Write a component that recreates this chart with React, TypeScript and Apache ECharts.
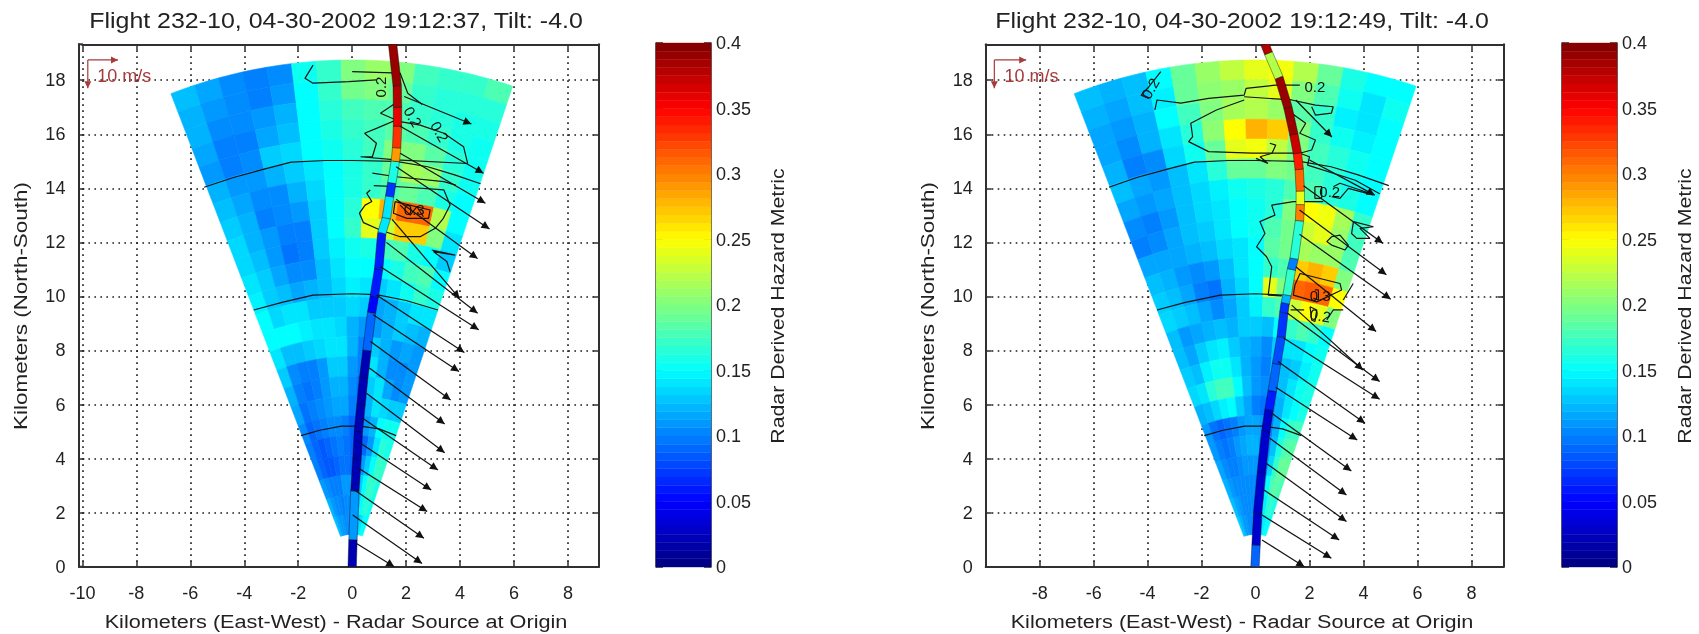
import React, { useEffect, useRef } from "react";
import * as echarts from "echarts";

const FONT = '"Liberation Sans", Arial, sans-serif';
const titles = ["Flight 232-10, 04-30-2002 19:12:37, Tilt: -4.0", "Flight 232-10, 04-30-2002 19:12:49, Tilt: -4.0"];
const xName = "Kilometers (East-West) - Radar Source at Origin";
const yName = "Kilometers (North-South)";
const barName = "Radar Derived Hazard Metric";

const azStart = -21, azStep = 39.5 / 14;
const rOuter = 18.75, rStep = 17.55 / 24;

// rows from the outer range gate inward, columns from west to east
const hazardA = [
  [.125,.115,.105,.10,.105,.155,.17,.20,.21,.20,.175,.17,.17,.18],
  [.12,.11,.105,.10,.11,.15,.17,.195,.20,.19,.17,.165,.165,.165],
  [.12,.105,.105,.11,.12,.15,.165,.175,.18,.18,.17,.165,.16,.16],
  [.115,.10,.10,.115,.125,.15,.16,.17,.175,.185,.18,.17,.16,.155],
  [.11,.10,.105,.13,.135,.15,.155,.165,.175,.20,.20,.185,.165,.155],
  [.12,.11,.11,.12,.13,.14,.15,.16,.17,.19,.215,.21,.17,.155],
  [.125,.115,.105,.105,.12,.135,.15,.16,.17,.18,.19,.18,.16,.15],
  [.13,.12,.10,.105,.11,.13,.15,.165,.25,.28,.31,.31,.22,.15],
  [.135,.12,.11,.10,.10,.13,.15,.17,.24,.23,.27,.27,.20,.14],
  [.135,.125,.11,.095,.10,.13,.145,.155,.16,.175,.18,.16,.15,.13],
  [.14,.13,.115,.105,.105,.125,.14,.15,.15,.15,.16,.175,.18,.15],
  [.145,.13,.125,.115,.12,.125,.135,.145,.14,.13,.14,.155,.17,.16],
  [.15,.135,.14,.14,.13,.13,.13,.135,.13,.115,.12,.13,.14,.14],
  [.15,.15,.15,.145,.14,.14,.135,.12,.11,.11,.12,.13,.125,.12],
  [.14,.125,.125,.13,.135,.14,.14,.12,.10,.13,.12,.11,.115,.11],
  [.13,.105,.10,.10,.11,.13,.13,.11,.10,.14,.12,.105,.105,.11],
  [.12,.10,.095,.10,.11,.12,.12,.105,.09,.13,.14,.115,.105,.11],
  [.115,.095,.10,.105,.11,.115,.115,.10,.09,.12,.14,.135,.13,.13],
  [.105,.09,.095,.10,.105,.105,.10,.09,.09,.11,.12,.15,.155,.155],
  [.10,.09,.085,.09,.095,.10,.095,.09,.085,.09,.11,.14,.165,.16],
  [.10,.09,.085,.085,.09,.095,.095,.09,.085,.11,.13,.15,.17,.17],
  [.11,.105,.10,.10,.10,.11,.11,.11,.10,.13,.15,.17,.17,.16],
  [.12,.11,.105,.105,.10,.105,.105,.11,.11,.13,.15,.165,.165,.155],
  [.125,.115,.11,.11,.105,.105,.105,.105,.11,.12,.13,.14,.15,.15],
];
const hazardB = [
  [.125,.12,.125,.15,.19,.21,.225,.24,.245,.22,.19,.16,.15,.15],
  [.12,.115,.125,.145,.19,.205,.21,.225,.24,.20,.18,.155,.14,.155],
  [.115,.11,.12,.15,.175,.20,.215,.22,.21,.185,.17,.145,.14,.15],
  [.115,.105,.12,.14,.165,.205,.25,.28,.27,.20,.17,.155,.145,.15],
  [.12,.10,.105,.135,.155,.19,.24,.245,.225,.20,.175,.165,.155,.15],
  [.125,.115,.11,.125,.14,.165,.19,.19,.20,.195,.175,.165,.155,.15],
  [.115,.11,.115,.125,.135,.145,.155,.16,.165,.18,.18,.165,.16,.15],
  [.105,.10,.11,.125,.135,.14,.15,.155,.165,.20,.25,.245,.215,.17],
  [.10,.105,.115,.125,.13,.14,.15,.155,.18,.195,.23,.24,.21,.175],
  [.115,.115,.115,.12,.125,.135,.14,.15,.185,.195,.215,.21,.21,.18],
  [.125,.12,.11,.105,.11,.125,.14,.15,.17,.18,.27,.28,.27,.2],
  [.13,.125,.115,.10,.095,.12,.135,.15,.24,.20,.31,.315,.31,.25],
  [.135,.13,.125,.115,.105,.115,.13,.145,.17,.18,.23,.25,.24,.2],
  [.125,.11,.115,.12,.125,.12,.13,.13,.125,.15,.17,.18,.17,.15],
  [.125,.115,.13,.14,.145,.13,.12,.115,.105,.13,.14,.14,.15,.155],
  [.13,.125,.145,.155,.155,.14,.12,.11,.10,.125,.125,.13,.145,.155],
  [.135,.14,.165,.175,.175,.15,.125,.11,.105,.115,.125,.14,.155,.16],
  [.12,.125,.135,.145,.15,.13,.115,.10,.095,.11,.12,.14,.15,.16],
  [.11,.095,.09,.095,.10,.11,.115,.115,.11,.10,.12,.15,.17,.175],
  [.11,.10,.095,.10,.11,.115,.12,.12,.11,.105,.125,.16,.18,.185],
  [.115,.105,.10,.10,.105,.11,.11,.11,.10,.11,.135,.17,.19,.19],
  [.12,.11,.105,.105,.105,.105,.105,.105,.105,.125,.15,.18,.185,.18],
  [.125,.115,.11,.105,.105,.105,.105,.105,.105,.125,.145,.165,.17,.16],
  [.13,.12,.11,.11,.105,.105,.11,.11,.115,.125,.135,.145,.15,.15],
];

// flight path vertices: x, y, hazard of the stretch that follows
const pathA = [[0,0,.02],[.03,1,.11],[.1,2.8,.02],[.18,4,.02],[.23,5,.02],[.33,6,.02],[.43,7,.02],[.55,8,.09],[.72,9.4,.05],[.82,10,.06],[.98,11,.06],[1.1,12.35,.14],[1.27,12.9,.14],[1.39,13.7,.07],[1.47,14.2,.16],[1.6,15,.29],[1.65,15.5,.33],[1.68,16.3,.36],[1.68,17,.38],[1.67,17.8,.39],[1.5,19.33,.39]];
const pathB = [[-.02,0,.09],[.02,.8,.03],[.08,2,.03],[.22,3.5,.03],[.38,5,.03],[.5,5.8,.06],[.62,6.5,.09],[.78,7.5,.08],[.95,8.5,.07],[1.05,9.4,.07],[1.1,9.75,.12],[1.17,10.05,.17],[1.33,11,.10],[1.43,11.4,.165],[1.63,12.8,.30],[1.66,13.4,.24],[1.66,13.9,.31],[1.62,14.7,.34],[1.55,15.3,.37],[1.42,16,.39],[1.2,17,.39],[.87,18.1,.22],[.48,19,.38],[.35,19.33,.38]];

// wind arrows: x0, y0, x1, y1
const arrowsA = [[.16,.86,1.56,0],[.02,1.91,2.59,.12],[.09,2.84,2.66,1.05],[.24,3.64,2.78,2.04],[.31,4.57,2.93,2.84],[.39,5.49,3.18,3.58],[.53,6.42,3.43,4.22],[.64,7.35,3.43,5.28],[.68,8.33,3.65,6.17],[.78,9.32,3.96,7.22],[.9,10.05,4.16,7.93],[1.05,11.1,4.69,8.77],[1.27,12,4.65,9.38],[1.48,12.85,3.98,9.93],[1.63,13.6,4.65,11.4],[1.63,14.8,5.09,12.5],[1.78,15.3,4.94,13.45],[1.78,16.3,4.87,14.56],[1.93,17.4,4.42,16.38]];
const arrowsB = [[.24,.99,1.81,0],[.24,1.91,2.81,.31],[.31,2.84,3.1,.99],[.39,3.83,3.37,1.67],[.53,4.75,3.37,2.65],[.6,5.68,3.55,3.54],[.75,6.64,3.77,4.69],[.83,7.59,4.06,5.31],[1.04,8.46,4.6,6.2],[1.19,9.38,4.6,6.85],[1.34,9.68,3.98,7.28],[1.49,11.1,4.47,8.7],[1.63,12.3,5.01,9.9],[1.63,13.2,4.85,10.8],[1.78,14.1,4.72,11.97],[2,15.05,4.42,13.75],[1.49,17.27,2.83,15.9]];

const ringsA = [
  [[-1.9,4.85],[-1.2,5.05],[-.4,5.2],[.3,5.2],[1,5.1],[1.63,4.85]],
  [[-3.65,9.5],[-2.6,9.78],[-1.45,10.05],[0,10.1],[.9,10.07],[2,9.85],[3.18,9.5]],
  [[-5.49,14.04],[-4.4,14.4],[-3.3,14.7],[-2.26,14.97],[-1,15.03],[0,15.03],[1.63,15],[2.8,14.8],[3.8,14.5],[4.76,14.17]],
];
const ringsB = [
  [[-1.9,4.85],[-1.2,5.05],[-.4,5.2],[.3,5.2],[1,5.1],[1.7,4.85]],
  [[-3.65,9.5],[-2.6,9.78],[-1.3,10.05],[0,10.1],[1,10.05]],
  [[-5.43,14.04],[-4.4,14.4],[-3.3,14.7],[-2.26,14.97],[-1,15.03],[0,15.03],[1.63,15],[2.8,14.8],[3.8,14.5],[4.94,14.1]],
];

const contoursA = [
  [[-1.45,18.56],[-1.75,18.07],[-1.45,17.89],[-.13,17.95],[.9,18.01]],
  [[-.0,18.32],[1.78,18.26],[2.06,17.52],[2.6,17.1]],
  [[1.78,17.27],[1.05,16.78],[1.63,16.53],[.9,16.22],[.46,16.04],[.9,15.67],[.75,15.17],[.31,15.17],[1.63,15.05],[4.28,14.92],[4.13,15.54],[3.4,16.04],[2.52,16.34],[1.78,16.47]],
  [[.75,14.56],[1.63,14.43],[3.4,14.25],[3.84,14.12]],
  [[.8,14.1],[1.9,14.05],[3.4,13.94],[3.63,13.38],[3.38,12.89],[3.08,12.52],[2.52,12.21],[1.78,12.21],[1.04,12.46],[.42,12.73],[.27,13.08],[.48,13.38],[.73,13.51],[.54,13.82],[.67,13.94]],
  [[1.59,13.51],[2.89,13.2],[2.83,12.89],[2.03,12.89],[1.53,13.08],[1.59,13.51]],
  [[1.78,13.38],[2.15,13.01],[2.4,13.32],[2.64,12.95]],
  [[2.95,11.72],[3.82,11.53],[3.01,11.66],[3.51,11.29],[3.63,10.92]],
];
const contoursB = [
  [[-3.51,18.32],[-3.95,17.76],[-4.24,17.45],[-3.95,17.33]],
  [[-3.73,16.9],[-3.65,17.27],[-2.77,17.15],[-1.74,17.33],[-.42,17.45],[-.35,17.7],[.75,17.82],[1.64,17.82]],
  [[-.42,17.39],[1.34,17.27],[2.22,17.08],[2.88,17.02],[2.81,16.78],[2.22,16.71],[2.08,17.02]],
  [[-.42,17.27],[-1.45,16.9],[-2.4,16.41],[-2.33,15.91],[-2.48,15.73],[-1.74,15.36],[-.13,15.3],[1.64,15.3],[2.08,15.42],[2.22,15.79],[1.64,16.04],[1.86,16.41],[1.34,16.78]],
  [[.53,15.67],[.75,15.6],[.61,15.3],[.17,15.17],[.46,14.92],[.02,15.11]],
  [[1.64,15.3],[2,15.17],[1.93,14.86],[3.7,14.3],[4.6,13.8]],
  [[2.51,13.51],[1.4,13.51],[.6,13.38],[.72,13.01],[.16,12.77],[.35,12.33],[.04,11.84],[.41,11.47],[.6,11.1],[.47,10.05],[.97,10.02]],
  [[1.46,10.42],[1.65,10.85],[3.13,10.48],[3.19,10.24],[2.27,9.8],[1.4,10.05],[1.46,10.42]],
  [[2.2,10.24],[2.33,10.24],[2.33,9.87],[2.14,9.93]],
  [[2.82,12.21],[3.13,12.27],[3.44,11.9],[3.32,11.72],[2.82,11.9],[2.64,12.03],[2.82,12.21]],
  [[3.63,12.77],[4.37,12.58],[3.87,12.52],[4.24,12.15],[3.75,12.15],[3.56,12.33],[3.63,12.77]],
  [[2.2,14.06],[2.45,14.06],[2.45,13.63],[2.2,13.63],[2.2,14.06]],
  [[2.88,14.06],[3.13,14.19],[4.24,13.82],[4.37,13.75],[3.44,14],[3.13,13.63],[2.82,13.69]],
  [[2.02,9.62],[2.27,9.5],[2.2,9.07],[2.08,9.13],[2.02,9.62]],
  [[1.3,9.5],[1.8,9.5]],
  [[2.64,9.13],[2.88,9.5],[3.25,9.5]],
  [[3.62,10.48],[3.25,9.87]],
];

// x, y, rotation in degrees; the text is in the matching list
const labelPosA = [[1.05,17.75,90],[2.25,16.65,-60],[3.25,16.1,-60],[2.3,13.2,0]];
const labelTextA = ["0.2", "0.2", "0.2", "0.3"];
const labelPosB = [[2.2,17.78,0],[2.75,13.9,0],[2.4,10.05,0],[2.4,9.3,-10],[-3.9,17.7,60]];
const labelTextB = ["0.2", "0.2", "0.3", "0.2", "0.2"];

const scaleArrowsA = [[-9.8,18.75,-8.68,18.75],[-9.8,18.75,-9.8,17.7]];
const scaleArrowsB = [[-9.68,18.75,-8.5,18.75],[-9.68,18.75,-9.68,17.7]];
const scaleTextPosA = [[-8.45,18.16,0]];
const scaleTextPosB = [[-8.3,18.16,0]];
const scaleText = ["10 m/s"];

const barTicks = [0, .05, .1, .15, .2, .25, .3, .35, .4];
const barLevels = Array.from({ length: 64 }, (_, i) => [(i + .5) * .4 / 64]);

function jet(v: number) {
  const t = Math.max(0, Math.min(1, v / .4)) * 4;
  const ch = (c: number) => Math.round(255 * Math.max(0, Math.min(1, 1.5 - Math.abs(t - c))));
  return `rgb(${ch(3)},${ch(2)},${ch(1)})`;
}

const DARK = "#303030";
const RED = "#a83a3a";
const GRAY = "#1c1c1c";
const INK = "#222";

function cellSeries(matrix: number[][], xi: number, yi: number) {
  const data: number[][] = [];
  matrix.forEach((row, i) => row.forEach((v, j) => data.push([i, j, v])));
  return {
    type: "custom", xAxisIndex: xi, yAxisIndex: yi, coordinateSystem: "cartesian2d", z: 2, silent: true,
    data,
    renderItem: (_: any, api: any) => {
      const i = api.value(0), j = api.value(1), v = api.value(2);
      const ro = rOuter - i * rStep, ri = ro - rStep;
      const a0 = azStart + j * azStep;
      const pts: number[][] = [];
      const at = (r: number, a: number) => {
        const t = (a * Math.PI) / 180;
        return api.coord([r * Math.sin(t), r * Math.cos(t)]);
      };
      for (let k = 0; k <= 3; k++) pts.push(at(ro, a0 + (k * azStep) / 3));
      for (let k = 3; k >= 0; k--) pts.push(at(ri, a0 + (k * azStep) / 3));
      const c = jet(v);
      return { type: "polygon", shape: { points: pts }, style: { fill: c, stroke: c, lineWidth: .6 } };
    },
  };
}

function pathSeries(path: number[][], xi: number, yi: number) {
  const data = path.slice(0, -1).map((p, i) => [p[0], p[1], path[i + 1][0], path[i + 1][1], p[2]]);
  return {
    type: "custom", xAxisIndex: xi, yAxisIndex: yi, coordinateSystem: "cartesian2d", z: 6, clip: true, silent: true,
    data,
    renderItem: (_: any, api: any) => {
      const a = api.coord([api.value(0), api.value(1)]);
      const b = api.coord([api.value(2), api.value(3)]);
      const dx = b[0] - a[0], dy = b[1] - a[1], l = Math.hypot(dx, dy) || 1;
      const w = 4.2, nx = (-dy / l) * w, ny = (dx / l) * w;
      return {
        type: "polygon",
        shape: { points: [[a[0] + nx, a[1] + ny], [b[0] + nx, b[1] + ny], [b[0] - nx, b[1] - ny], [a[0] - nx, a[1] - ny]] },
        style: { fill: jet(api.value(4)), stroke: "rgba(0,0,0,.55)", lineWidth: .7 },
      };
    },
  };
}

function arrowSeries(list: number[][], xi: number, yi: number, color: string, z: number, head: number) {
  return {
    type: "custom", xAxisIndex: xi, yAxisIndex: yi, coordinateSystem: "cartesian2d", z, clip: true, silent: true,
    data: list,
    renderItem: (_: any, api: any) => {
      const a = api.coord([api.value(0), api.value(1)]);
      const b = api.coord([api.value(2), api.value(3)]);
      const dx = b[0] - a[0], dy = b[1] - a[1], l = Math.hypot(dx, dy) || 1;
      const ux = dx / l, uy = dy / l;
      return {
        type: "group",
        children: [
          { type: "line", shape: { x1: a[0], y1: a[1], x2: b[0], y2: b[1] }, style: { stroke: color, lineWidth: 1.2 } },
          { type: "polygon", shape: { points: [[b[0], b[1]], [b[0] - ux * head - uy * head * .5, b[1] - uy * head + ux * head * .5], [b[0] - ux * head + uy * head * .5, b[1] - uy * head - ux * head * .5]] }, style: { fill: color } },
        ],
      };
    },
  };
}

function lineSeries(lines: number[][][], xi: number, yi: number, z: number) {
  return lines.map((d) => ({
    type: "line", xAxisIndex: xi, yAxisIndex: yi, data: d, showSymbol: false, symbol: "none", z, silent: true, clip: true,
    lineStyle: { color: "#141414", width: 1.2 },
  }));
}

function textSeries(pos: number[][], texts: string[], xi: number, yi: number, fill: string, size: number, z: number) {
  return {
    type: "custom", xAxisIndex: xi, yAxisIndex: yi, coordinateSystem: "cartesian2d", z, silent: true,
    data: pos,
    renderItem: (p: any, api: any) => {
      const c = api.coord([api.value(0), api.value(1)]);
      return {
        type: "text", x: c[0], y: c[1], rotation: (api.value(2) * Math.PI) / 180,
        style: { text: texts[p.dataIndex], fill, font: `${size}px ${FONT}`, textAlign: "center", textVerticalAlign: "middle" },
      };
    },
  };
}

const tickLabel = { color: INK, fontFamily: FONT, fontSize: 18 };
const evenOnly = (v: number) => (Math.abs(v % 2) < 1e-9 ? String(v) : "");

function plotAxes(grid: number, xMax: number, showLeft: boolean, leftOffset: number) {
  const base = { gridIndex: grid, type: "value", axisLine: { show: true, onZero: false, lineStyle: { color: DARK, width: 2 } }, axisTick: { inside: true, length: 6, lineStyle: { color: DARK, width: 1.5 } } };
  const dots = { show: true, lineStyle: { color: GRAY, type: [1.6, 4.4], width: 1.6 } };
  return {
    x: [
      { ...base, position: "bottom", min: -10, max: xMax, interval: 2, splitLine: dots,
        axisLabel: { ...tickLabel, margin: 17, showMaxLabel: false, formatter: (v: number) => (v === -10 && !showLeft ? "" : evenOnly(v)) } },
      { ...base, position: "top", min: -10, max: xMax, interval: 2, splitLine: { show: false }, axisLabel: { show: false } },
    ],
    y: [
      { ...base, position: "left", offset: leftOffset, min: 0, max: 19.33, interval: 2, splitLine: dots,
        axisLabel: { ...tickLabel, margin: 13, showMaxLabel: false, formatter: evenOnly } },
      { ...base, position: "right", min: 0, max: 19.33, interval: 2, splitLine: { show: false }, axisLabel: { show: false } },
    ],
  };
}

function barAxes(grid: number) {
  const base = { gridIndex: grid, type: "value", min: 0, max: .4, interval: barTicks[1], axisLine: { show: true, lineStyle: { color: DARK, width: 1.5 } }, axisTick: { inside: true, length: 7, lineStyle: { color: DARK, width: 1.5 } }, splitLine: { show: false } };
  return {
    x: { gridIndex: grid, type: "value", min: 0, max: 1, show: false },
    y: [
      { ...base, position: "left", axisLabel: { show: false } },
      { ...base, position: "right", axisLabel: { ...tickLabel, margin: 5, formatter: (v: number) => String(Number(v.toFixed(2))) } },
    ],
  };
}

function barSeries(xi: number, yi: number) {
  return {
    type: "custom", xAxisIndex: xi, yAxisIndex: yi, coordinateSystem: "cartesian2d", z: 2, silent: true,
    data: barLevels,
    renderItem: (_: any, api: any) => {
      const v = api.value(0), d = .4 / 128;
      const a = api.coord([0, v + d]), b = api.coord([1, v - d]);
      const c = jet(v);
      return { type: "rect", shape: { x: a[0], y: a[1], width: b[0] - a[0], height: b[1] - a[1] }, style: { fill: c, stroke: c, lineWidth: .4 } };
    },
  };
}

function stretched(text: string, x: number, y: number, size: number, scaleX: number, rotation = 0) {
  return {
    type: "text", x, y, scaleX, rotation, silent: true,
    style: { text, fill: INK, font: `${size}px ${FONT}`, textAlign: "center", textVerticalAlign: "middle" },
  };
}

export default function App() {
  const ref = useRef<HTMLDivElement>(null);
  useEffect(() => {
    if (!ref.current) return;
    const chart = echarts.init(ref.current, undefined, { renderer: "svg" });
    const pa = plotAxes(0, 9.15, true, 4), pb = plotAxes(1, 9.19, false, 0);
    const ba = barAxes(2), bb = barAxes(3);
    const up = Math.PI / 2;
    chart.setOption({
      animation: false,
      backgroundColor: "#fff",
      graphic: [
        stretched(titles[0], 336, 20, 23, 1.085),
        stretched(titles[1], 1242, 20, 23, 1.085),
        stretched(xName, 336, 621, 19, 1.14),
        stretched(xName, 1242, 621, 19, 1.14),
        stretched(yName, 20, 306, 19, 1.18, up),
        stretched(yName, 927, 306, 19, 1.18, up),
        stretched(barName, 777, 306, 19, 1.12, up),
        stretched(barName, 1684, 306, 19, 1.12, up),
        { type: "line", silent: true, shape: { x1: 78, y1: 44.3, x2: 83, y2: 44.3 }, style: { stroke: DARK, lineWidth: 2 } },
        { type: "line", silent: true, shape: { x1: 78, y1: 566.7, x2: 83, y2: 566.7 }, style: { stroke: DARK, lineWidth: 2 } },
      ],
      grid: [
        { left: 82.4, top: 44.3, width: 516.6, height: 522.4 },
        { left: 985.7, top: 44.3, width: 517.8, height: 522.4 },
        { left: 656, top: 43, width: 55, height: 524 },
        { left: 1562, top: 43, width: 55, height: 524 },
      ],
      xAxis: [...pa.x, ...pb.x, ba.x, bb.x],
      yAxis: [...pa.y, ...pb.y, ...ba.y, ...bb.y],
      series: [
        cellSeries(hazardA, 0, 0),
        ...lineSeries(ringsA, 0, 0, 3),
        ...lineSeries(contoursA, 0, 0, 4),
        textSeries(labelPosA, labelTextA, 0, 0, "#111", 15, 8),
        pathSeries(pathA, 0, 0),
        arrowSeries(arrowsA, 0, 0, "#111", 7, 8),
        arrowSeries(scaleArrowsA, 0, 0, RED, 9, 7),
        textSeries(scaleTextPosA, scaleText, 0, 0, RED, 18, 9),

        cellSeries(hazardB, 2, 2),
        ...lineSeries(ringsB, 2, 2, 3),
        ...lineSeries(contoursB, 2, 2, 4),
        textSeries(labelPosB, labelTextB, 2, 2, "#111", 15, 8),
        pathSeries(pathB, 2, 2),
        arrowSeries(arrowsB, 2, 2, "#111", 7, 8),
        arrowSeries(scaleArrowsB, 2, 2, RED, 9, 7),
        textSeries(scaleTextPosB, scaleText, 2, 2, RED, 18, 9),

        barSeries(4, 4),
        barSeries(5, 6),
      ],
    });
    return () => chart.dispose();
  }, []);
  return <div ref={ref} style={{ position: "absolute", left: 0, top: 0, width: 1699, height: 634, filter: "blur(0.5px)" }} />;
}
